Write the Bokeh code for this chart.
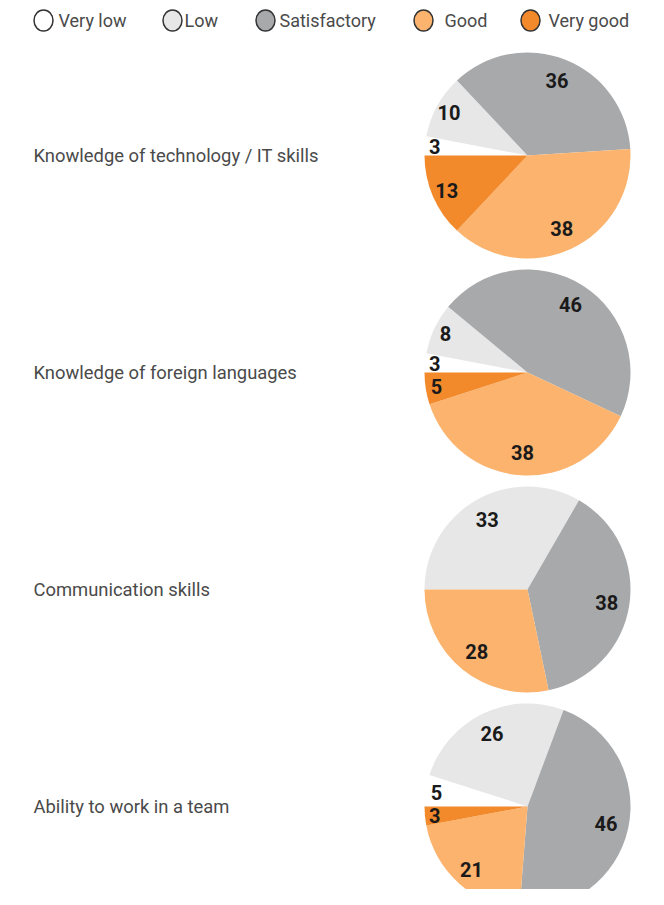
import math
from bokeh.plotting import figure
from bokeh.models import ColumnDataSource, Range1d
from bokeh.core.properties import value
from bokeh.embed import file_html
from bokeh.resources import INLINE

# ---------------- data ----------------
categories = ["Very low", "Low", "Satisfactory", "Good", "Very good"]
skills = [
    "Knowledge of technology / IT skills",
    "Knowledge of foreign languages",
    "Communication skills",
    "Ability to work in a team",
]
tech_it = [3, 10, 36, 38, 13]
languages = [3, 8, 46, 38, 5]
communication = [0, 33, 38, 28, 0]
teamwork = [5, 26, 46, 21, 3]
series = [tech_it, languages, communication, teamwork]

# ---------------- style / layout ----------------
colors = ["#ffffff", "#e7e7e7", "#a8a9ab", "#fbb36e", "#f28a2c"]
W, H = 648, 889
PIE_X = 527
ROW0 = 155
ROW_STEP = 217
R = 103
LABEL_X = 33
FONT = value("Roboto")

p = figure(width=W, height=H, output_backend="svg", toolbar_location=None,
           x_range=Range1d(0, W), y_range=Range1d(-H, 0),
           min_border=0, outline_line_color=None)
p.axis.visible = False
p.grid.visible = False
p.background_fill_color = "#ffffff"
p.border_fill_color = "#ffffff"

wx, wy, ws, we, wc = [], [], [], [], []
tx, ty, tt = [], [], []
lx, ly, lt = [], [], []
for row, (name, vals) in enumerate(zip(skills, series)):
    cy = -(ROW0 + row * ROW_STEP)
    total = float(sum(vals))
    cum = 0.0
    for v, c in zip(vals, colors):
        a = cum / total
        b = (cum + v) / total
        cum += v
        if v <= 0:
            continue
        wx.append(PIE_X); wy.append(cy)
        ws.append(math.pi - 2 * math.pi * a)
        we.append(math.pi - 2 * math.pi * b)
        wc.append(c)
        frac = v / total
        mid = math.pi - math.pi * (a + b)
        d = R * (0.92 - 0.5 * min(frac, 0.28))
        tx.append(PIE_X + d * math.cos(mid))
        ty.append(cy + d * math.sin(mid))
        tt.append(str(v))
    lx.append(LABEL_X); ly.append(cy); lt.append(name)

p.wedge(x="x", y="y", radius=R, start_angle="s", end_angle="e", direction="clock",
        fill_color="c", line_color=None,
        source=ColumnDataSource(dict(x=wx, y=wy, s=ws, e=we, c=wc)))

p.text(x="x", y="y", text="t", source=ColumnDataSource(dict(x=tx, y=ty, t=tt)),
       text_align="center", text_baseline="middle", text_font=FONT,
       text_font_style="bold", text_font_size="20px", text_color="#1a1a1a")

p.text(x="x", y="y", text="t", source=ColumnDataSource(dict(x=lx, y=ly, t=lt)),
       text_align="left", text_baseline="middle", text_font=FONT,
       text_font_size="18.4px", text_color="#4a4a4a")

# legend
leg_marker_x = [43, 172, 265, 423, 530]
leg_text_x = [58, 184, 279, 444, 548]
leg_y = -20
p.ellipse(x=leg_marker_x, y=[leg_y] * 5, width=19, height=21,
          fill_color=colors, line_color="#333333", line_width=1.5)
p.text(x=leg_text_x, y=[leg_y] * 5, text=categories,
       text_align="left", text_baseline="middle", text_font=FONT,
       text_font_size="18px", text_color="#4a4a4a")

open("out.html", "w").write(file_html(p, INLINE))
